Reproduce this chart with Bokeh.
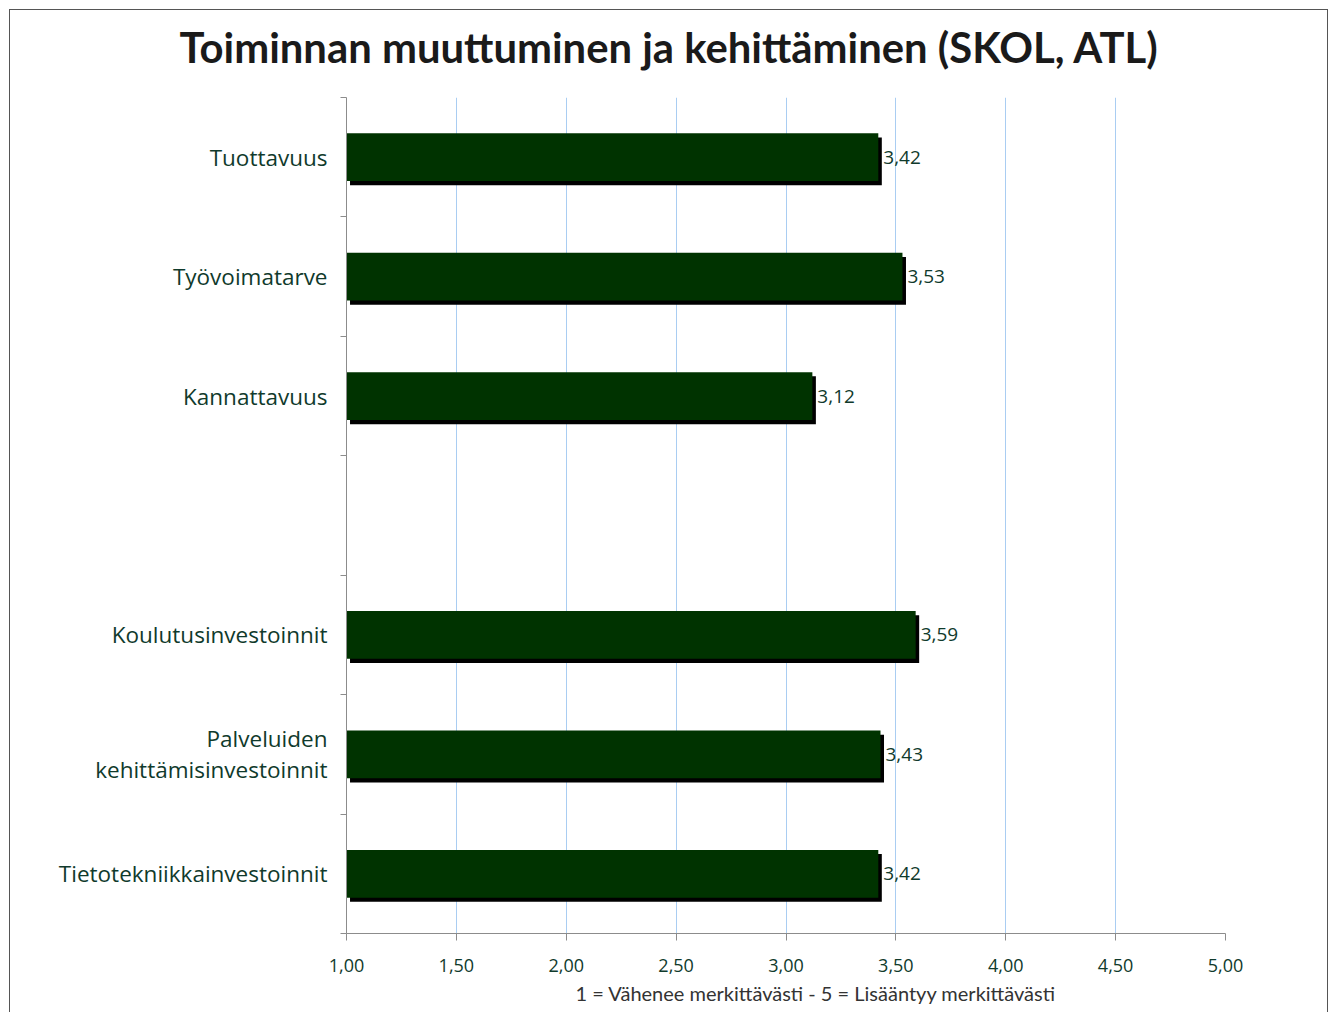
from bokeh.plotting import figure
from bokeh.models import Range1d, FixedTicker, ColumnDataSource, Title
from bokeh.transform import dodge
from bokeh.core.properties import value
from bokeh.embed import file_html
from bokeh.resources import INLINE

title_text = "Toiminnan muuttuminen ja kehittäminen (SKOL, ATL)"
axis_title = "1 = Vähenee merkittävästi - 5 = Lisääntyy merkittävästi"
categories = ["Tuottavuus", "Työvoimatarve", "Kannattavuus", "",
              "Koulutusinvestoinnit", "Palveluiden\nkehittämisinvestoinnit",
              "Tietotekniikkainvestoinnit"]
values = [3.42, 3.53, 3.12, None, 3.59, 3.43, 3.42]
x_ticks = [1.0, 1.5, 2.0, 2.5, 3.0, 3.5, 4.0, 4.5, 5.0]
x_tick_labels = ["1,00", "1,50", "2,00", "2,50", "3,00", "3,50", "4,00", "4,50", "5,00"]

FONT = "Open Sans"
TXT = "#103a2c"

pos = [i + 0.5 for i in range(len(categories))]
bar_y = [pos[i] for i, v in enumerate(values) if v is not None]
bar_v = [v for v in values if v is not None]
src = ColumnDataSource(dict(y=bar_y, right=bar_v, left=[1.0] * len(bar_v),
                            lab=[f"{v:.2f}".replace(".", ",") for v in bar_v]))

p = figure(width=1319, height=1004, output_backend="svg", toolbar_location=None,
           title=title_text,
           x_range=Range1d(1, 5), y_range=Range1d(len(categories), 0),
           min_border_left=336, min_border_right=104, min_border_top=87, min_border_bottom=81)
p.outline_line_color = None
p.styles = {"border": "1px solid #555555", "margin": "9px 0 0 9px"}

p.title.align = "left"
p.title.offset = -167
p.title.text_font = "Lato"
p.title.text_font_style = "bold"
p.title.text_font_size = "41.8px"
p.title.text_color = "#1a1a1a"
p.title.standoff = 8

# spacer between title and plot area
p.add_layout(Title(text=" ", text_font_size="1px", standoff=19), "above")

# shadow then bar
p.hbar(y=dodge("y", 0.035, range=p.y_range), left=dodge("left", 0.016, range=p.x_range),
       right=dodge("right", 0.016, range=p.x_range), height=0.40, source=src,
       fill_color="black", line_color=None)
p.hbar(y="y", left="left", right="right", height=0.40, source=src,
       fill_color="#003300", line_color=None)
p.text(x="right", y="y", text="lab", source=src, x_offset=5, text_baseline="middle",
       text_align="left", text_font=value(FONT), text_font_size="19px", text_color=TXT)

# x axis
xa = p.xaxis[0]
xa.ticker = FixedTicker(ticks=x_ticks, minor_ticks=[])
xa.major_label_overrides = {t: l for t, l in zip(x_ticks, x_tick_labels)}
xa.major_tick_out = 7
xa.major_tick_in = 0
xa.minor_tick_out = 0
xa.major_label_standoff = 18
xa.major_label_text_font = FONT
xa.major_label_text_font_size = "18px"
xa.major_label_text_color = TXT
xa.axis_line_color = "#8c8c8c"
xa.major_tick_line_color = "#8c8c8c"

# y axis
ya = p.yaxis[0]
ya.ticker = FixedTicker(ticks=pos, minor_ticks=list(range(len(categories) + 1)))
ya.major_label_overrides = {t: c for t, c in zip(pos, categories)}
ya.major_tick_out = 0
ya.major_tick_in = 0
ya.minor_tick_out = 6
ya.minor_tick_in = 0
ya.major_label_standoff = 13
ya.major_label_text_font = FONT
ya.major_label_text_font_size = "22.5px"
ya.major_label_text_line_height = 1.0
ya.major_label_text_color = TXT
ya.major_label_text_align = "right"
ya.axis_line_color = "#8c8c8c"
ya.minor_tick_line_color = "#8c8c8c"

p.xgrid.ticker = FixedTicker(ticks=x_ticks[1:])
p.xgrid.grid_line_color = "#a9cdf2"
p.ygrid.grid_line_color = None

p.add_layout(Title(text=axis_title, align="left", offset=229, text_font="Lato",
                   text_font_style="normal", text_font_size="20px",
                   text_color="#333333", standoff=8), "below")

open("out.html", "w").write(file_html(p, INLINE))
